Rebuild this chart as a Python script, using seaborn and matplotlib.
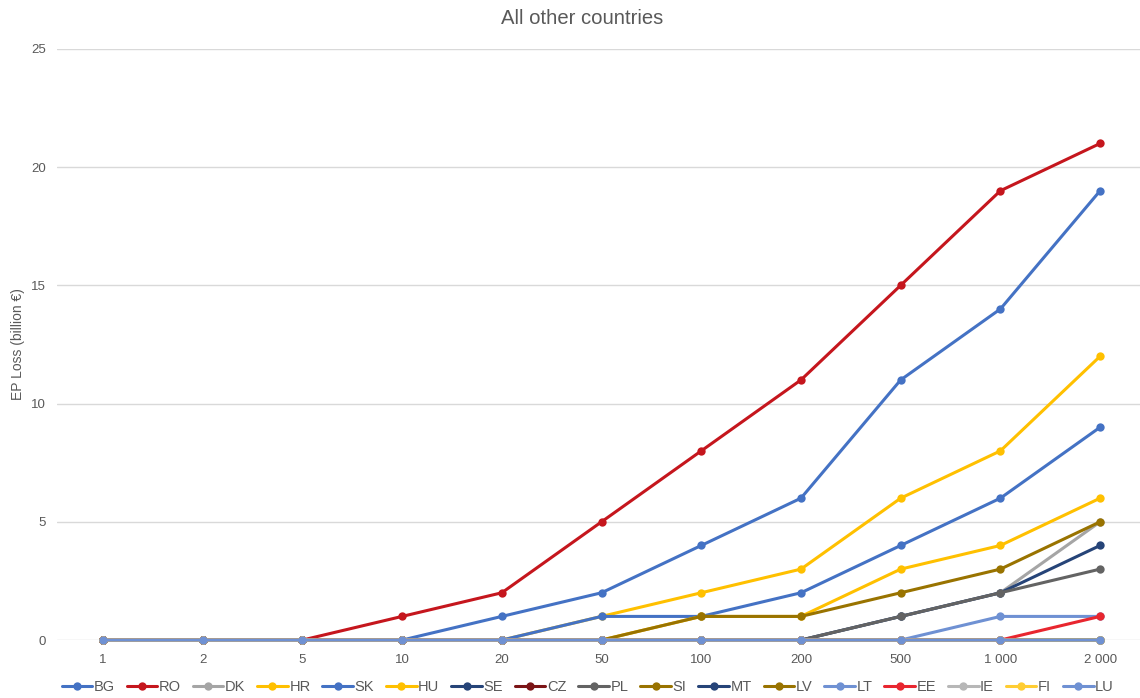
import pandas as pd
import matplotlib.pyplot as plt
import seaborn as sns

# return periods (categorical x axis)
periods = ["1", "2", "5", "10", "20", "50", "100", "200", "500", "1 000", "2 000"]

countries = ["BG", "RO", "DK", "HR", "SK", "HU", "SE", "CZ", "PL",
             "SI", "MT", "LV", "LT", "EE", "IE", "FI", "LU"]

BG = [0, 0, 0, 0, 1, 2, 4, 6, 11, 14, 19]
RO = [0, 0, 0, 1, 2, 5, 8, 11, 15, 19, 21]
DK = [0, 0, 0, 0, 0, 0, 0, 0, 1, 2, 5]
HR = [0, 0, 0, 0, 0, 1, 2, 3, 6, 8, 12]
SK = [0, 0, 0, 0, 0, 1, 1, 2, 4, 6, 9]
HU = [0, 0, 0, 0, 0, 0, 1, 1, 3, 4, 6]
SE = [0, 0, 0, 0, 0, 0, 0, 0, 1, 2, 4]
CZ = [0, 0, 0, 0, 0, 0, 0, 0, 0, 0, 0]
PL = [0, 0, 0, 0, 0, 0, 0, 0, 1, 2, 3]
SI = [0, 0, 0, 0, 0, 0, 1, 1, 2, 3, 5]
MT = [0, 0, 0, 0, 0, 0, 0, 0, 0, 0, 0]
LV = [0, 0, 0, 0, 0, 0, 0, 0, 0, 0, 0]
LT = [0, 0, 0, 0, 0, 0, 0, 0, 0, 1, 1]
EE = [0, 0, 0, 0, 0, 0, 0, 0, 0, 0, 1]
IE = [0, 0, 0, 0, 0, 0, 0, 0, 0, 0, 0]
FI = [0, 0, 0, 0, 0, 0, 0, 0, 0, 0, 0]
LU = [0, 0, 0, 0, 0, 0, 0, 0, 0, 0, 0]

values = [BG, RO, DK, HR, SK, HU, SE, CZ, PL, SI, MT, LV, LT, EE, IE, FI, LU]

colors = ["#4472C4", "#C5161D", "#A5A5A5", "#FFC000", "#4472C4", "#FFC000",
          "#264478", "#7B1416", "#636363", "#997300", "#264478", "#997300",
          "#6F91D3", "#E8262F", "#B7B7B7", "#FFCD33", "#6F91D3"]

sns.set_style("white")
plt.rcParams['font.family'] = ['Liberation Sans', 'DejaVu Sans']

fig = plt.figure(figsize=(11.4, 6.98), dpi=100)
ax = fig.add_axes([0.05, 0.083, 0.95, 0.847])

# one call per country so later countries sit on top (LU last)
for k, (c, vals, col) in enumerate(zip(countries, values, colors)):
    d = pd.DataFrame({"idx": range(len(periods)), "loss": vals})
    sns.lineplot(data=d, x="idx", y="loss", color=col, label=c, marker="o",
                 markersize=6, markeredgewidth=0, linewidth=2.2, snap=False,
                 clip_on=False, zorder=2 + k * 0.01, ax=ax)

ax.set_xlim(-0.461, 10.40)
ax.set_ylim(0, 25)
ax.set_xticks(range(len(periods)))
ax.set_xticklabels(periods)
ax.set_yticks([0, 5, 10, 15, 20, 25])
ax.grid(axis="y", color="#D9D9D9", linewidth=1)
ax.set_axisbelow(True)
for s in ax.spines.values():
    s.set_visible(False)
ax.tick_params(axis="x", length=0, labelsize=9.5, colors="#595959", pad=10)
ax.tick_params(axis="y", length=0, labelsize=9.5, colors="#595959", pad=8)
ax.set_xlabel("")
ax.set_ylabel("EP Loss (billion €)", fontsize=10, color="#595959", labelpad=4)
fig.text(0.511, 0.974, "All other countries", fontsize=14.6, color="#595959",
         ha="center", va="center")

ax.legend(loc="upper center", bbox_to_anchor=(0.49, -0.045), ncol=17, frameon=False,
          fontsize=10.5, handlelength=2.1, handletextpad=0.1, columnspacing=0.82,
          labelcolor="#595959")

fig.savefig("out.png", dpi=100)
